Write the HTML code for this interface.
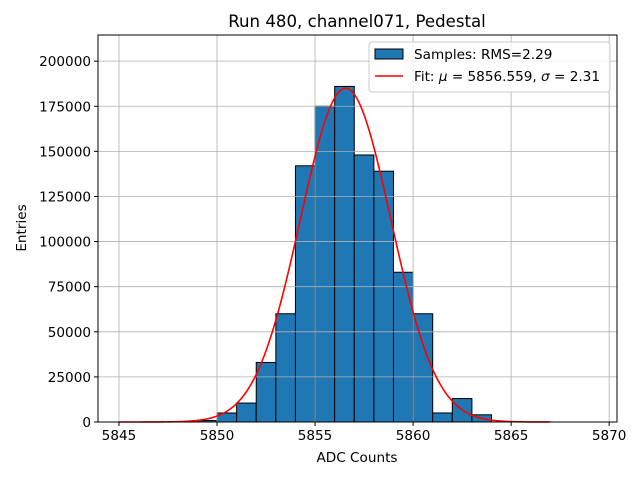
<!DOCTYPE html>
<html><head><meta charset="utf-8"><style>
body{margin:0;background:#fff;}
svg{font-family:"DejaVu Sans","Liberation Sans",sans-serif;}
</style></head><body>
<svg id="chart" width="640" height="480" xmlns="http://www.w3.org/2000/svg">
<rect width="640" height="480" fill="#fff"/>
<text x="357" y="27" text-anchor="middle" font-size="16.6">Run 480, channel071, Pedestal</text>
<g id="bars"></g>
<g id="grid"></g>
<path id="fit" fill="none" stroke="#ff0000" stroke-width="1.6"/>
<rect x="98" y="35" width="519" height="387" fill="none" stroke="#000" stroke-width="1"/>
<g id="xt"></g>
<g id="yt"></g>
<text x="357" y="462" text-anchor="middle" font-size="13.6">ADC Counts</text>
<text transform="translate(26,228) rotate(-90)" text-anchor="middle" font-size="13.6">Entries</text>
<g>
<rect x="369" y="42" width="241" height="50" rx="3" fill="#fff" fill-opacity="0.8" stroke="#ccc"/>
<rect x="375" y="49" width="28" height="10" fill="#1f77b4" stroke="#000"/>
<text x="414" y="59" font-size="13.6">Samples: RMS=2.29</text>
<line x1="375" y1="76" x2="403" y2="76" stroke="#ff0000" stroke-width="1.6"/>
<text x="414" y="81" font-size="13.6">Fit: <tspan font-style="italic">μ</tspan> = 5856.559, <tspan font-style="italic">σ</tspan> = 2.31</text>
</g>
</svg>
<script>
const binEdges = [5849,5850,5851,5852,5853,5854,5855,5856,5857,5858,5859,5860,5861,5862,5863];
const counts = [800,5000,10500,33000,60000,142000,175000,186000,148000,139000,83000,60000,5000,13000,4000];
const xTicks = [5845,5850,5855,5860,5865,5870];
const yTicks = [0,25000,50000,75000,100000,125000,150000,175000,200000];
const fitMu = 5856.559, fitSigma = 2.31, fitAmp = 185000;
const fitRange = [5845,5867];

const X0=98,X1=617,Y0=35,Y1=422;
const xMin=5843.93,xMax=5870.4,yMin=0,yMax=214500;
const sx=v=>X0+(v-xMin)/(xMax-xMin)*(X1-X0);
const sy=v=>Y1-(v-yMin)/(yMax-yMin)*(Y1-Y0);
const NS="http://www.w3.org/2000/svg";
function mk(t,a,p){const e=document.createElementNS(NS,t);for(const k in a)e.setAttribute(k,a[k]);p.appendChild(e);return e;}

const bars=document.getElementById('bars');
counts.forEach((c,i)=>{
  const x=sx(binEdges[i]),w=sx(binEdges[i]+1)-x;
  const r=mk('rect',{x:x,y:sy(c),width:w,height:sy(0)-sy(c),fill:'#1f77b4',stroke:'#000','stroke-width':1},bars);
  
  
});
const grid=document.getElementById('grid'),xt=document.getElementById('xt'),yt=document.getElementById('yt');
xTicks.forEach(v=>{
  const x=sx(v);
  const g=mk('line',{x1:x,x2:x,y1:Y0,y2:Y1,stroke:'#b0b0b0','stroke-width':0.8},grid);
  
  
  mk('line',{x1:x,x2:x,y1:Y1,y2:Y1+4,stroke:'#000'},xt);
  const t=mk('text',{x:x,y:Y1+18,'text-anchor':'middle','font-size':13.6},xt);
  t.textContent=v;
  
  
});
yTicks.forEach(v=>{
  const y=sy(v);
  const g=mk('line',{x1:X0,x2:X1,y1:y,y2:y,stroke:'#b0b0b0','stroke-width':0.8},grid);
  
  
  mk('line',{x1:X0-4,x2:X0,y1:y,y2:y,stroke:'#000'},yt);
  const t=mk('text',{x:X0-7,y:y+5,'text-anchor':'end','font-size':13.6},yt);
  t.textContent=v;
  
  
});
let d='';
for(let i=0;i<=300;i++){
  const v=fitRange[0]+(fitRange[1]-fitRange[0])*i/300;
  const yv=fitAmp*Math.exp(-0.5*((v-fitMu)/fitSigma)**2);
  d+=(i?'L':'M')+sx(v).toFixed(2)+','+sy(yv).toFixed(2);
}
document.getElementById('fit').setAttribute('d',d);
</script>
</body></html>
